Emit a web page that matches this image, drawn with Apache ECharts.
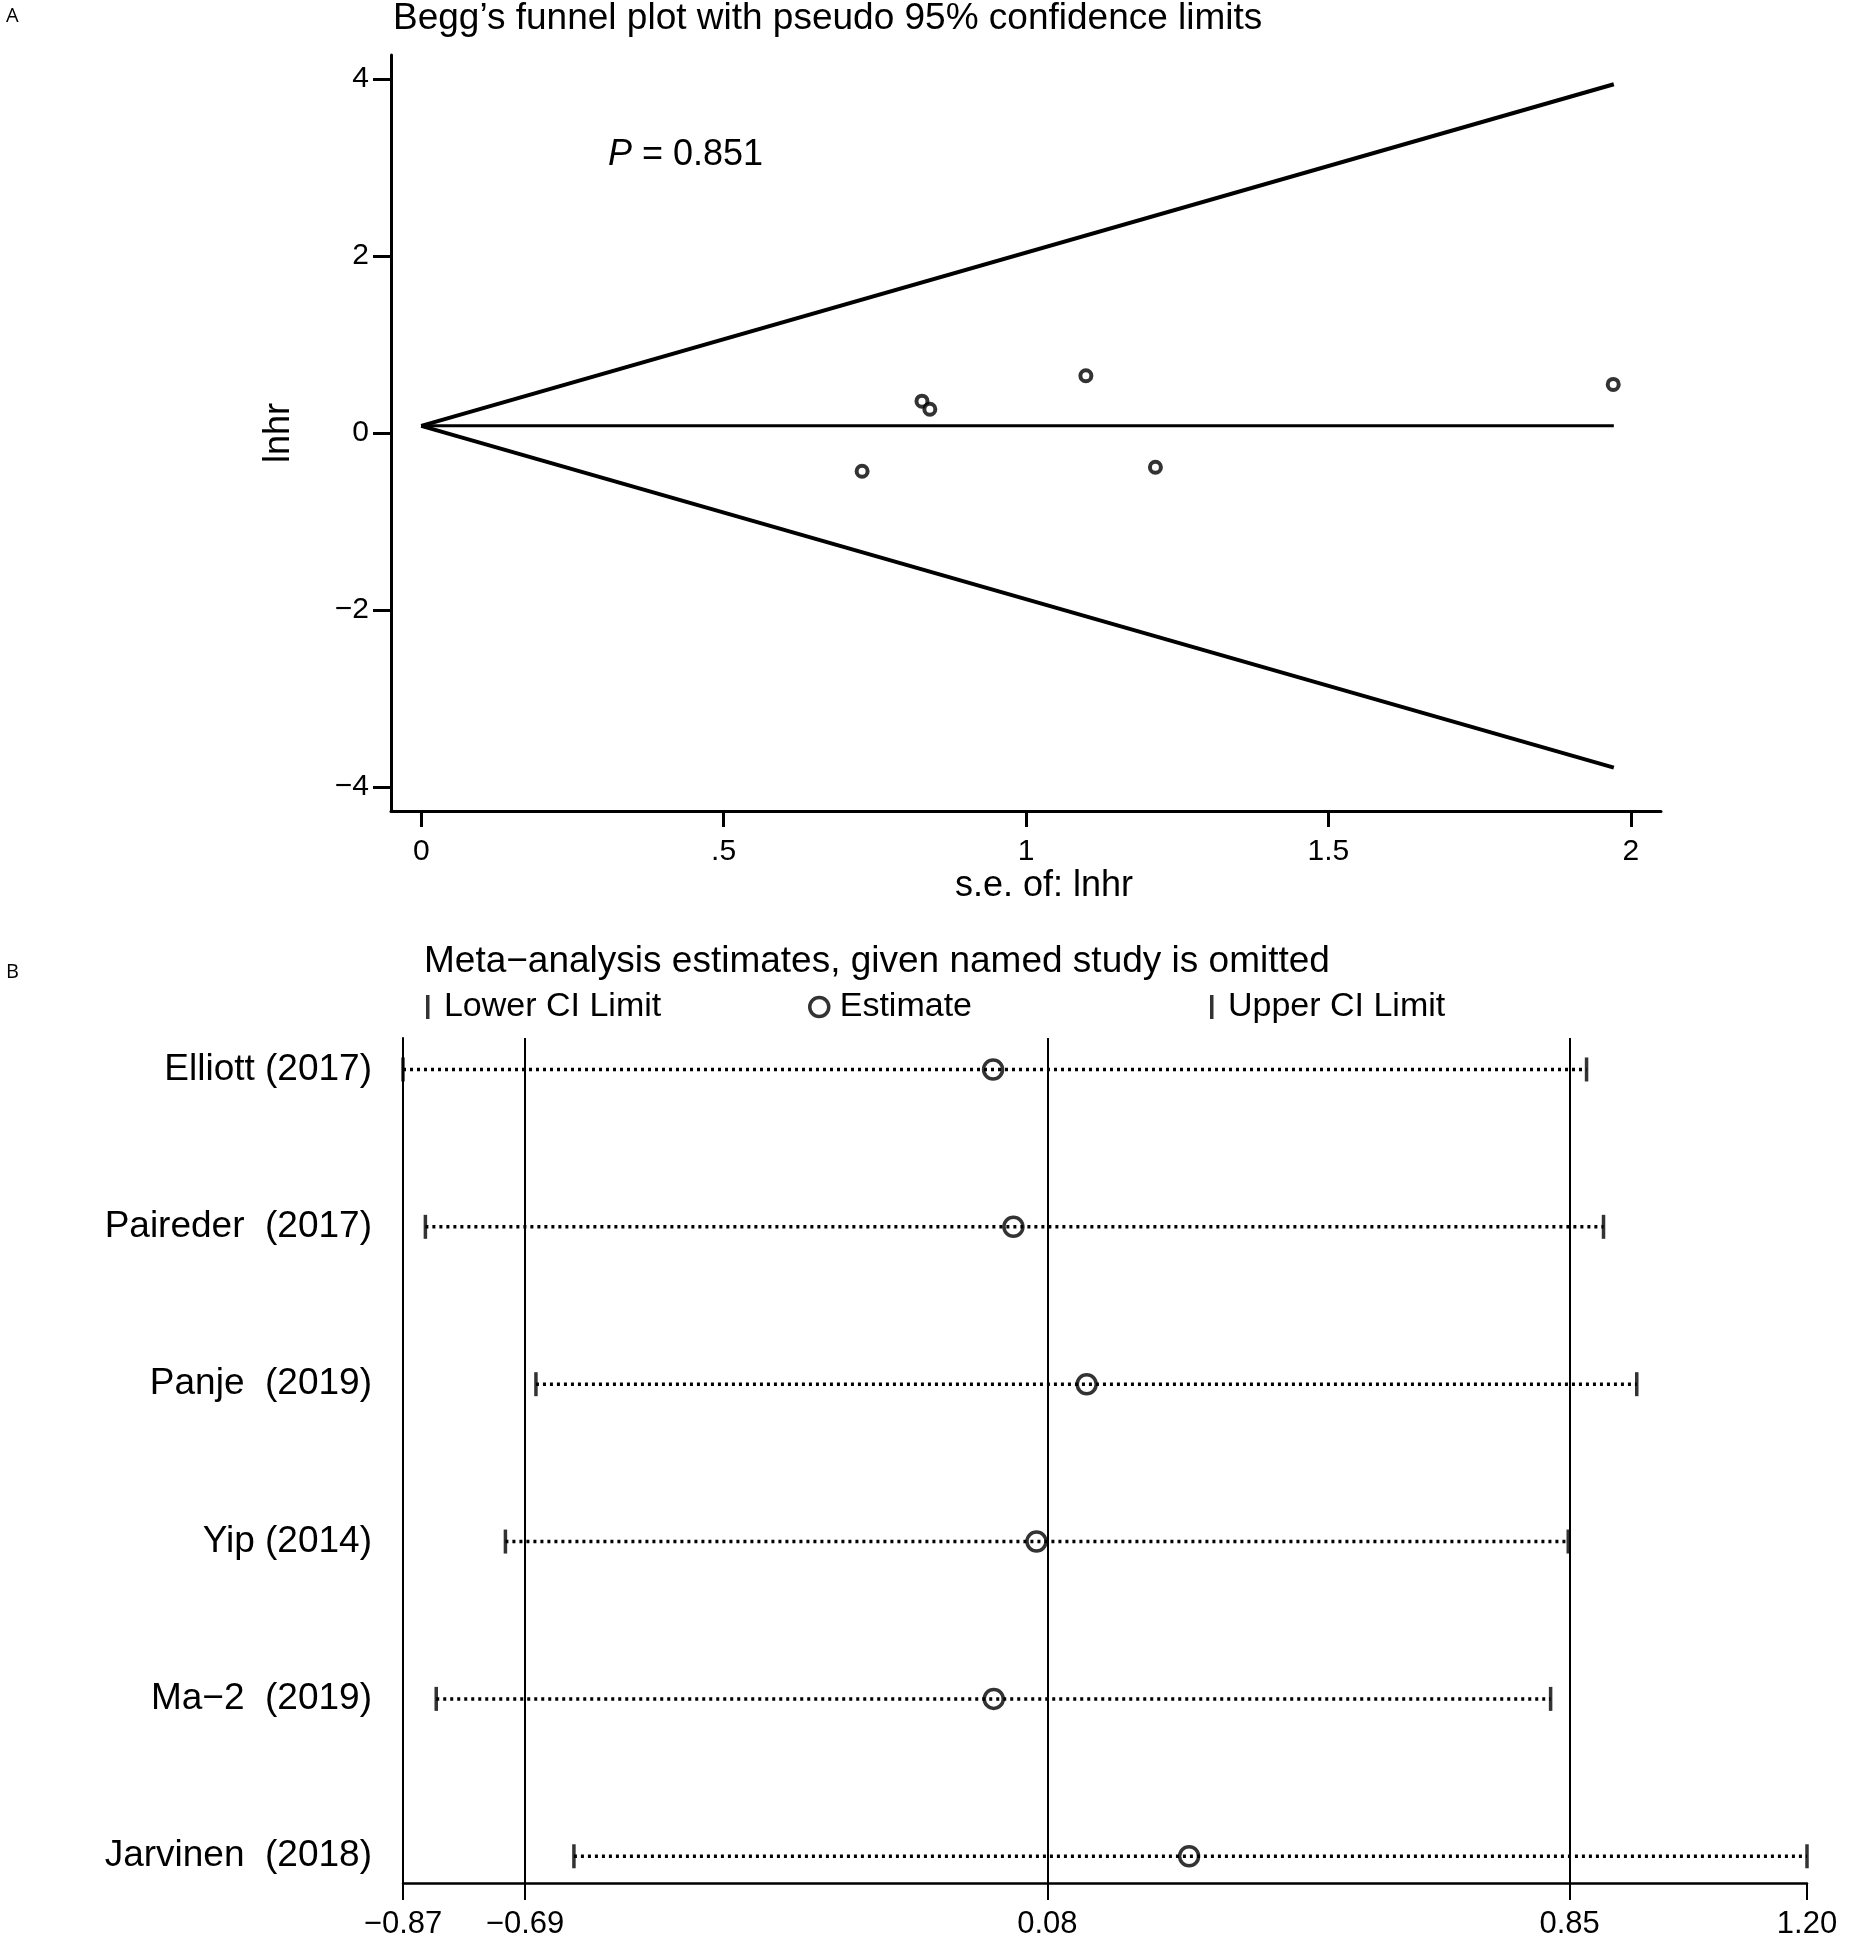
<!DOCTYPE html>
<html><head><meta charset="utf-8">
<script src="https://cdn.jsdelivr.net/npm/echarts@6/dist/echarts.min.js"></script>
<style>html,body{margin:0;padding:0;background:#fff}#chart{width:1849px;height:1941px}</style>
</head><body><div id="chart"></div>
<script>
// ---------- Panel A: Begg's funnel plot ----------
const seLnhr = [0.729, 0.828, 0.841, 1.099, 1.214, 1.971];
const lnhr = [-0.432, 0.360, 0.269, 0.647, -0.387, 0.549];
const funnelSe = [0, 1.972];
const funnelPooled = [0.081, 0.081];
const funnelUpper = [0.081, 3.94];
const funnelLower = [0.081, -3.78];
const xTicksA = [0, 0.5, 1, 1.5, 2];
const xTickLabelsA = ['0', '.5', '1', '1.5', '2'];
const yTicksA = [-4, -2, 0, 2, 4];
const yTickLabelsA = ['\u22124', '\u22122', '0', '2', '4'];
const pValue = '0.851';

// ---------- Panel B: leave-one-out sensitivity ----------
const studies = ['Elliott (2017)', 'Paireder  (2017)', 'Panje  (2019)', 'Yip (2014)', 'Ma\u22122  (2019)', 'Jarvinen  (2018)'];
const lowerCI = [-0.870, -0.837, -0.674, -0.719, -0.821, -0.618];
const estimate = [0.000, 0.030, 0.138, 0.064, 0.001, 0.289];
const upperCI = [0.875, 0.900, 0.949, 0.848, 0.822, 1.200];
const overallLines = [-0.69, 0.08, 0.85];
const xTicksB = [-0.87, -0.69, 0.08, 0.85, 1.20];
const xTickLabelsB = ['\u22120.87', '\u22120.69', '0.08', '0.85', '1.20'];
const rowPositions = [1, 2, 3, 4, 5, 6];

const FONT = '"Liberation Sans", Arial, sans-serif';
const lookup = (ticks, labels) => v => {
  const i = ticks.findIndex(t => Math.abs(t - v) < 1e-6);
  return i >= 0 ? labels[i] : '';
};
const zip = (xs, ys) => xs.map((x, i) => [x, ys[i]]);

const chart = echarts.init(document.getElementById('chart'), null, {renderer: 'canvas'});

const ciSeries = studies.map((s, i) => ({
  type: 'line', xAxisIndex: 1, yAxisIndex: 1, silent: true, symbol: 'none',
  lineStyle: {color: '#000', width: 3.5, type: [3, 4]},
  data: [[lowerCI[i], rowPositions[i]], [upperCI[i], rowPositions[i]]],
  z: 2
}));

const option = {
  backgroundColor: '#fff',
  animation: false,
  textStyle: {fontFamily: FONT, color: '#000'},
  title: [
    {text: 'A', left: 6, top: 6, padding: 0, textStyle: {fontFamily: '"Open Sans", sans-serif', fontSize: 20, fontWeight: 'normal', color: '#000'}},
    {text: 'Begg\u2019s funnel plot with pseudo 95% confidence limits', left: 393, top: 0, padding: 0,
     textStyle: {fontFamily: FONT, fontSize: 37, fontWeight: 'normal', color: '#000'}},
    {text: 'B', left: 6, top: 962, padding: 0, textStyle: {fontFamily: '"Open Sans", sans-serif', fontSize: 20, fontWeight: 'normal', color: '#000'}},
    {text: 'Meta\u2212analysis estimates, given named study is omitted', left: 424, top: 943, padding: 0,
     textStyle: {fontFamily: FONT, fontSize: 37, fontWeight: 'normal', color: '#000'}}
  ],
  legend: [
    {data: ['Lower CI Limit'], left: 426, top: 990, padding: 0, icon: 'rect', itemWidth: 3.5, itemHeight: 24,
     selectedMode: false, formatter: n => ' ' + n, textStyle: {fontFamily: FONT, fontSize: 34, color: '#000'}},
    {data: ['Estimate'], left: 808, top: 990, padding: 0, icon: 'circle', itemWidth: 19, itemHeight: 21,
     itemStyle: {color: 'rgba(0,0,0,0)', borderColor: '#000', borderWidth: 3.5},
     selectedMode: false, formatter: n => n, textStyle: {fontFamily: FONT, fontSize: 34, color: '#000', padding: [0, 0, 0, 6]}},
    {data: ['Upper CI Limit'], left: 1210, top: 990, padding: 0, icon: 'rect', itemWidth: 3.5, itemHeight: 24,
     selectedMode: false, formatter: n => ' ' + n, textStyle: {fontFamily: FONT, fontSize: 34, color: '#000'}}
  ],
  graphic: [
    {type: 'text', left: 608, top: 137, z: 10,
     style: {text: '{i|P} = ' + pValue, fontFamily: FONT, fontSize: 36, fill: '#000',
              rich: {i: {fontStyle: 'italic', fontFamily: FONT, fontSize: 36, fill: '#000'}}}}
  ],
  grid: [
    {left: 391, top: 55, width: 1270, height: 756, containLabel: false},
    {left: 403, top: 1038, width: 1404, height: 845, containLabel: false}
  ],
  xAxis: [
    {gridIndex: 0, type: 'value', min: -0.05, max: 2.05,
     axisLine: {show: true, onZero: false, lineStyle: {color: '#000', width: 3}},
     axisTick: {show: true, customValues: xTicksA, length: 16, lineStyle: {color: '#000', width: 3}},
     axisLabel: {customValues: xTicksA, formatter: lookup(xTicksA, xTickLabelsA), fontSize: 30, margin: 26, color: '#000', fontFamily: FONT},
     splitLine: {show: false},
     name: 's.e. of: lnhr', nameLocation: 'middle', nameGap: 56,
     nameTextStyle: {fontSize: 36, color: '#000', fontFamily: FONT, padding: [0, 0, 0, 36]}},
    {gridIndex: 1, type: 'value', min: -0.87, max: 1.20,
     axisLine: {show: true, onZero: false, lineStyle: {color: '#000', width: 2.5}},
     axisTick: {show: true, customValues: xTicksB, length: 17, lineStyle: {color: '#000', width: 2}},
     axisLabel: {customValues: xTicksB, formatter: lookup(xTicksB, xTickLabelsB), fontSize: 31, margin: 26, color: '#000', fontFamily: FONT},
     splitLine: {show: false}}
  ],
  yAxis: [
    {gridIndex: 0, type: 'value', min: -4.27, max: 4.27,
     axisLine: {show: true, onZero: false, lineStyle: {color: '#000', width: 3}},
     axisTick: {show: true, customValues: yTicksA, length: 18, lineStyle: {color: '#000', width: 3}},
     axisLabel: {customValues: yTicksA, formatter: lookup(yTicksA, yTickLabelsA), fontSize: 30, margin: 22, color: '#000', fontFamily: FONT},
     splitLine: {show: false},
     name: 'lnhr', nameLocation: 'middle', nameGap: 94, nameRotate: 90,
     nameTextStyle: {fontSize: 36, color: '#000', fontFamily: FONT}},
    {gridIndex: 1, type: 'value', inverse: true, min: 0.80, max: 6.17,
     axisLine: {show: true, onZero: false, lineStyle: {color: '#000', width: 2}},
     axisTick: {show: false},
     axisLabel: {customValues: rowPositions, formatter: v => studies[Math.round(v) - 1] || '', fontSize: 37, margin: 31, color: '#000', fontFamily: FONT},
     splitLine: {show: false}}
  ],
  series: [
    {type: 'line', name: 'upper', xAxisIndex: 0, yAxisIndex: 0, symbol: 'none', silent: true,
     lineStyle: {color: '#000', width: 4}, data: zip(funnelSe, funnelUpper)},
    {type: 'line', name: 'lower', xAxisIndex: 0, yAxisIndex: 0, symbol: 'none', silent: true,
     lineStyle: {color: '#000', width: 4}, data: zip(funnelSe, funnelLower)},
    {type: 'line', name: 'pooled', xAxisIndex: 0, yAxisIndex: 0, symbol: 'none', silent: true,
     lineStyle: {color: '#000', width: 3}, data: zip(funnelSe, funnelPooled)},
    {type: 'scatter', name: 'studies', xAxisIndex: 0, yAxisIndex: 0, symbol: 'circle', symbolSize: 11,
     itemStyle: {color: '#fff', borderColor: '#000', borderWidth: 4}, data: zip(seLnhr, lnhr), z: 5},
    {type: 'line', name: 'overall', xAxisIndex: 1, yAxisIndex: 1, symbol: 'none', silent: true, data: [],
     markLine: {symbol: 'none', silent: true, label: {show: false},
                lineStyle: {color: '#000', width: 2, type: 'solid'},
                data: overallLines.map(v => ({xAxis: v}))}},
    ...ciSeries,
    {type: 'scatter', name: 'Lower CI Limit', xAxisIndex: 1, yAxisIndex: 1, symbol: 'rect', symbolSize: [3.5, 24],
     itemStyle: {color: '#000'}, data: zip(lowerCI, rowPositions), z: 4},
    {type: 'scatter', name: 'Upper CI Limit', xAxisIndex: 1, yAxisIndex: 1, symbol: 'rect', symbolSize: [3.5, 24],
     itemStyle: {color: '#000'}, data: zip(upperCI, rowPositions), z: 4},
    {type: 'scatter', name: 'Estimate', xAxisIndex: 1, yAxisIndex: 1, symbol: 'circle', symbolSize: 19,
     itemStyle: {color: 'rgba(0,0,0,0)', borderColor: '#000', borderWidth: 3.5}, data: zip(estimate, rowPositions), z: 5}
  ]
};
chart.setOption(option);
</script></body></html>
